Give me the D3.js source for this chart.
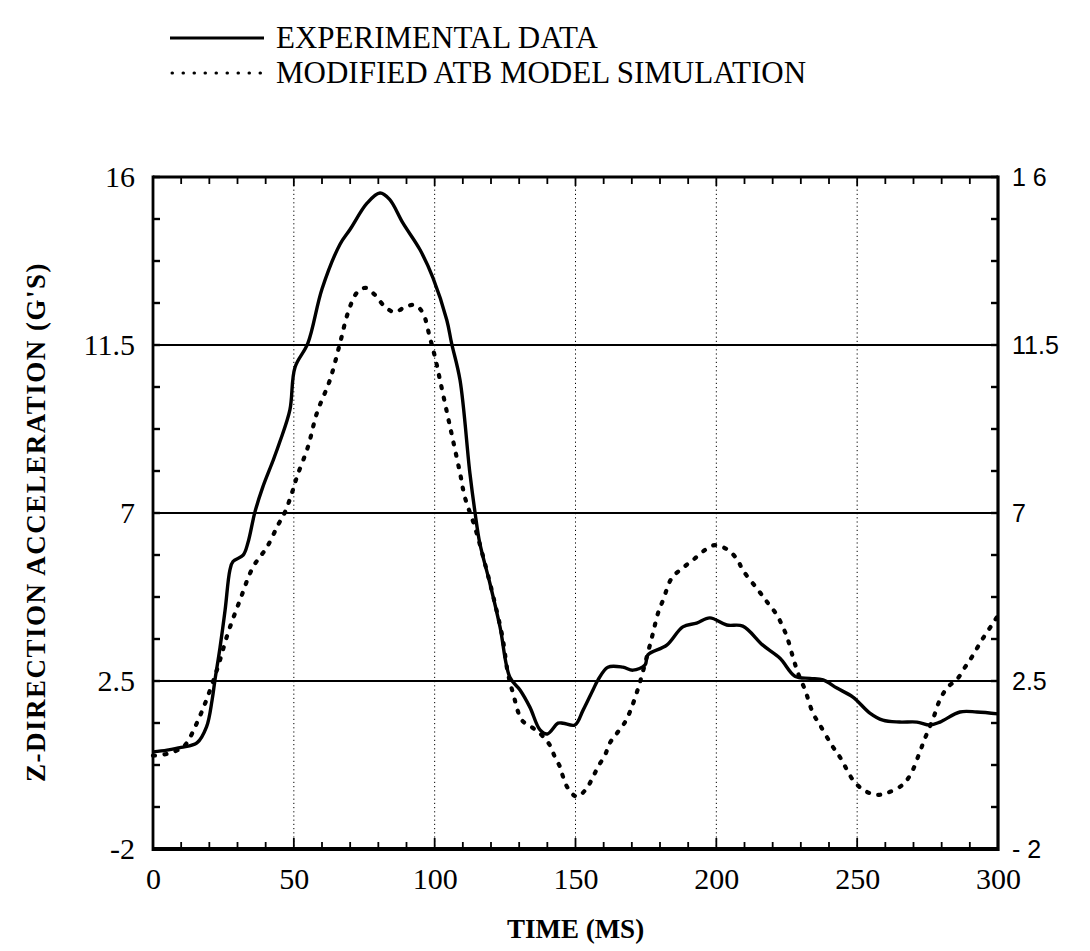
<!DOCTYPE html>
<html><head><meta charset="utf-8">
<script src="https://cdn.jsdelivr.net/npm/d3@7"></script>
<style>
body{margin:0;background:#fff;}
svg{display:block;}
text{fill:#000;}
</style></head>
<body>
<svg id="chart" width="1090" height="951"></svg>
<script>
// ---- data ----
const expTime = [0,5,10,15.6,19,21,22,23.8,25.6,27.3,28.4,32,33.7,36.2,39,42.6,45,48.6,50.4,55,60,66.4,70,76,80.6,84,88.7,94.8,99.4,104.3,106,109,112.5,114.3,116,119.6,123.2,126.7,130.3,133.8,137.4,140,143.8,145.6,149.8,152.7,156.2,158,161.5,166.8,170.4,174.7,175.7,182.4,188.1,193,197.7,203.7,209.4,216.5,222.6,227.9,233.2,237.9,242.8,248.5,254.5,259.1,265,271.2,275.8,279.4,286.5,292.5,300];
const expAccel = [0.6,0.65,0.72,0.84,1.27,2.0,2.53,3.4,4.4,5.47,5.7,5.87,6.2,7.03,7.7,8.4,8.9,9.76,10.9,11.55,13.0,14.2,14.6,15.3,15.57,15.4,14.77,14.05,13.3,12.17,11.55,10.56,8.07,7.03,6.2,5.12,3.95,2.6,2.26,1.8,1.19,1.08,1.37,1.37,1.32,1.72,2.26,2.53,2.87,2.87,2.79,2.93,3.2,3.46,3.95,4.05,4.19,4.0,3.97,3.46,3.11,2.63,2.57,2.53,2.31,2.07,1.64,1.45,1.4,1.4,1.32,1.4,1.67,1.67,1.62];

const simTime = [0,5,10,12,15.6,19,23,26.6,30.9,35.5,40.5,44.4,46.9,49.3,51.1,55,58.2,62.8,66.4,69.2,72.4,75.6,78.8,82.4,85.9,89.5,93,95.8,98.3,100.1,101.9,104.4,106.5,109,110.7,114.3,118,121,124,126,127.8,131,134.9,138,140.9,142.7,144.5,145.6,147.3,150.5,154,156.2,158,160.5,162.2,164.7,167.6,169.3,171.1,173,175.5,177.5,179.3,181.1,184.2,188.1,191.7,196,199.5,203.7,207.3,209.4,214.8,218.3,221.5,223.3,225.1,227.2,229,231.5,234.3,236.8,241,243.9,249,253,256.7,260.5,265.8,269,272,274,277,279.4,282.2,285.3,288.3,290.7,294.3,297.8,300];
const simAccel = [0.5,0.55,0.7,0.84,1.38,2.0,2.87,3.78,4.67,5.55,6.09,6.68,7.03,7.53,7.97,8.77,9.68,10.56,11.55,12.36,12.9,13.03,12.84,12.52,12.38,12.52,12.57,12.36,11.7,11.18,10.56,9.68,8.95,8.07,7.43,6.62,5.6,4.7,3.7,2.71,2.18,1.45,1.24,1.05,0.78,0.46,0.2,-0.07,-0.37,-0.6,-0.37,-0.07,0.2,0.52,0.84,1.1,1.4,1.67,2.04,2.5,3.2,3.78,4.32,4.67,5.26,5.53,5.74,6.01,6.14,6.03,5.77,5.47,4.94,4.59,4.27,4.0,3.68,3.14,2.71,2.26,1.64,1.32,0.78,0.46,-0.2,-0.45,-0.55,-0.5,-0.3,0.0,0.55,0.95,1.5,2.0,2.34,2.53,2.87,3.14,3.6,4.0,4.25];

const xTicks = [0,50,100,150,200,250,300];
const xTickLabels = ["0","50","100","150","200","250","300"];
const yTicks = [-2,2.5,7,11.5,16];
const yTickLabelsLeft = ["-2","2.5","7","11.5","16"];
const yTickLabelsRight = ["- 2","2.5","7","11.5","1 6"];
const seriesNames = ["EXPERIMENTAL DATA","MODIFIED ATB MODEL SIMULATION"];

// ---- layout ----
const svg = d3.select("#chart");
const X0=153, X1=998, Y0=849, Y1=177;
const x = d3.scaleLinear().domain([0,300]).range([X0,X1]);
const y = d3.scaleLinear().domain([-2,16]).range([Y0,Y1]);
const serif = "'Liberation Serif','Times New Roman',serif";
const sans = "'Liberation Sans',Arial,sans-serif";

// grid: vertical dotted
const g = svg.append("g");
g.selectAll(".vg").data(xTicks.slice(1,-1)).join("line")
  .attr("x1",d=>x(d)).attr("x2",d=>x(d)).attr("y1",Y1).attr("y2",Y0)
  .attr("stroke","#000").attr("stroke-width",1).attr("stroke-dasharray","1.2 3");
// horizontal solid grid
g.selectAll(".hg").data(yTicks.slice(1,-1)).join("line")
  .attr("x1",X0).attr("x2",X1).attr("y1",d=>y(d)).attr("y2",d=>y(d))
  .attr("stroke","#000").attr("stroke-width",1.8);

// minor ticks
const xMinor = d3.range(0,301,10);
g.selectAll(".bt").data(xMinor).join("line")
  .attr("x1",d=>x(d)).attr("x2",d=>x(d)).attr("y1",Y0)
  .attr("y2",d=> d%50===0 ? Y0-11 : Y0-7)
  .attr("stroke","#000").attr("stroke-width",1.8);
g.selectAll(".tt").data(xMinor).join("line")
  .attr("x1",d=>x(d)).attr("x2",d=>x(d)).attr("y1",Y1)
  .attr("y2",d=> d%50===0 ? Y1+9 : Y1+7)
  .attr("stroke","#000").attr("stroke-width",1.8);
const yMinor = d3.range(0,17).map(i=>-2+i*1.125);
g.selectAll(".lt").data(yMinor).join("line")
  .attr("x1",X0).attr("x2",X0+7).attr("y1",d=>y(d)).attr("y2",d=>y(d))
  .attr("stroke","#000").attr("stroke-width",2.4);
g.selectAll(".rt").data(yMinor).join("line")
  .attr("x1",X1).attr("x2",X1-7).attr("y1",d=>y(d)).attr("y2",d=>y(d))
  .attr("stroke","#000").attr("stroke-width",2.4);

// frame
svg.append("line").attr("x1",X0).attr("x2",X1).attr("y1",Y1).attr("y2",Y1).attr("stroke","#000").attr("stroke-width",3.2);
svg.append("line").attr("x1",X0).attr("x2",X1).attr("y1",Y0).attr("y2",Y0).attr("stroke","#000").attr("stroke-width",4);
svg.append("line").attr("x1",X0).attr("x2",X0).attr("y1",Y1-1.5).attr("y2",Y0+2).attr("stroke","#000").attr("stroke-width",2.8);
svg.append("line").attr("x1",X1).attr("x2",X1).attr("y1",Y1-1.5).attr("y2",Y0+2).attr("stroke","#000").attr("stroke-width",3.2);

// data lines
const expData = expTime.map((t,i)=>[t,expAccel[i]]);
const simData = simTime.map((t,i)=>[t,simAccel[i]]);
const line = d3.line().x(d=>x(d[0])).y(d=>y(d[1])).curve(d3.curveCatmullRom.alpha(0.5));
svg.append("path").attr("d",line(simData)).attr("fill","none").attr("stroke","#000")
  .attr("stroke-width",4.2).attr("stroke-linecap","round").attr("stroke-dasharray","2 9.5");
svg.append("path").attr("d",line(expData)).attr("fill","none").attr("stroke","#000")
  .attr("stroke-width",3.4).attr("stroke-linejoin","round");

// tick labels
const xAxis = d3.axisBottom(x).tickValues(xTicks).tickFormat((d,i)=>xTickLabels[i]).tickSize(0).tickPadding(0);
const xa = svg.append("g").attr("transform",`translate(0,${Y0+31})`).call(xAxis);
xa.select(".domain").remove();
xa.selectAll("text").attr("font-family",serif).attr("font-size",30).attr("fill","#000").attr("dy","0.3em");

const yAxisL = d3.axisLeft(y).tickValues(yTicks).tickFormat((d,i)=>yTickLabelsLeft[i]).tickSize(0).tickPadding(18);
const yl = svg.append("g").attr("transform",`translate(${X0},0)`).call(yAxisL);
yl.select(".domain").remove();
yl.selectAll("text").attr("font-family",serif).attr("font-size",30).attr("fill","#000").attr("dy","0.3em");

const yAxisR = d3.axisRight(y).tickValues(yTicks).tickFormat((d,i)=>yTickLabelsRight[i]).tickSize(0).tickPadding(14);
const yr = svg.append("g").attr("transform",`translate(${X1},0)`).call(yAxisR);
yr.select(".domain").remove();
yr.selectAll("text").attr("font-family",sans).attr("font-size",25).attr("fill","#000").attr("dy","0.33em");

// axis titles
svg.append("text").attr("x",(X0+X1)/2).attr("y",938).attr("text-anchor","middle")
  .attr("font-family",serif).attr("font-weight","bold").attr("font-size",27).text("TIME (MS)");
svg.append("text").attr("transform",`translate(45,522) rotate(-90)`).attr("text-anchor","middle")
  .attr("font-family",serif).attr("font-weight","bold").attr("font-size",27).attr("letter-spacing",1.5)
  .text("Z-DIRECTION  ACCELERATION  (G'S)");

// legend
const leg = svg.append("g");
leg.append("line").attr("x1",170).attr("x2",264).attr("y1",38).attr("y2",38).attr("stroke","#000").attr("stroke-width",3);
leg.append("line").attr("x1",172).attr("x2",264).attr("y1",73).attr("y2",73).attr("stroke","#000")
  .attr("stroke-width",3).attr("stroke-linecap","round").attr("stroke-dasharray","0.5 10.5");
leg.append("text").attr("x",276).attr("y",48).attr("font-family",serif).attr("font-size",31).text(seriesNames[0]);
leg.append("text").attr("x",276).attr("y",83).attr("font-family",serif).attr("font-size",31).text(seriesNames[1]);
</script>
</body></html>
